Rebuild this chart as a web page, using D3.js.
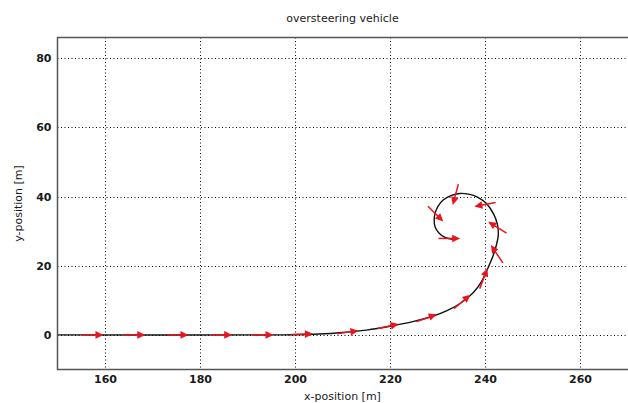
<!DOCTYPE html>
<html>
<head>
<meta charset="utf-8">
<script src="https://cdn.jsdelivr.net/npm/d3@7"></script>
<style>
html,body{margin:0;padding:0;background:#fff;}
svg{display:block;}
text{font-family:"DejaVu Sans",sans-serif;}
</style>
</head>
<body>
<svg id="chart" width="628" height="403"></svg>
<script>
// ---- data ----
const titleText = "oversteering vehicle";
const xLabelText = "x-position [m]";
const yLabelText = "y-position [m]";
const xTicks = [160, 180, 200, 220, 240, 260];
const yTicks = [0, 20, 40, 60, 80];
const xDomain = [150, 270];
const yDomain = [-10, 86];

// vehicle trajectory [m]
const pathX = [150, 195, 200, 205, 210, 215, 220, 225, 229, 232, 235, 237.5, 239.3, 240.5, 241.6, 242.4, 242.8, 242.6, 241.8, 240.3, 238.5, 236.5, 234.7, 232.8, 231.2, 230.1, 229.5, 229.3, 229.5, 230.3, 231.6, 233.5];
const pathY = [0, 0, 0.05, 0.25, 0.7, 1.4, 2.5, 3.9, 5.4, 7.0, 9.3, 12.2, 15.5, 19, 22.5, 26, 29, 32, 35, 38, 39.8, 40.7, 40.9, 40.3, 39, 37.2, 35.2, 33.2, 31.2, 29.5, 28.2, 27.6];

// heading arrows: centre position [m] and heading angle [deg]
const arrowX = [157.4, 166.2, 175.3, 184.5, 193.2, 201.5, 211.1, 219.6, 227.7, 235.2, 239.7, 242.5, 242.6, 240.0, 233.8, 229.6, 232.5];
const arrowY = [0, 0, 0, 0, 0, 0.2, 0.8, 2.5, 4.9, 9.6, 16.3, 23.4, 31.1, 37.7, 40.6, 35.0, 27.9];
const arrowHeading = [0, 0, 0, 0, 0, 2, 8, 12, 20, 40, 69, 124, 148, 191, 255, 315, 360];

// ---- layout ----
const svg = d3.select("#chart");
const L = 57.5, R = 627.5, T = 37.5, B = 369.5;
const x = d3.scaleLinear().domain(xDomain).range([L, R]);
const y = d3.scaleLinear().domain(yDomain).range([B, T]);

// grid
const grid = svg.append("g");
grid.selectAll(".gx").data(xTicks).enter().append("line")
  .attr("x1", d => Math.round(x(d)) + 0.5).attr("x2", d => Math.round(x(d)) + 0.5)
  .attr("y1", T).attr("y2", B)
  .attr("stroke", "#000").attr("stroke-width", 1).attr("stroke-dasharray", "1,2.5");
grid.selectAll(".gy").data(yTicks).enter().append("line")
  .attr("y1", d => Math.round(y(d)) + 0.5).attr("y2", d => Math.round(y(d)) + 0.5)
  .attr("x1", L).attr("x2", 628)
  .attr("stroke", "#000").attr("stroke-width", 1).attr("stroke-dasharray", "1,2.5");

// axes with d3 (labels only)
const xAxis = d3.axisBottom(x).tickValues(xTicks).tickSize(0).tickPadding(6);
const yAxis = d3.axisLeft(y).tickValues(yTicks).tickSize(0).tickPadding(6);
const gx = svg.append("g").attr("transform", `translate(0,${B})`).call(xAxis);
const gy = svg.append("g").attr("transform", `translate(${L},0)`).call(yAxis);
[gx, gy].forEach(g => {
  g.select(".domain").remove();
  g.selectAll("text").attr("font-family", "DejaVu Sans, sans-serif")
    .attr("font-size", 11).attr("font-weight", "bold").attr("fill", "#1a1a1a");
});

// trajectory
const pts = pathX.map((d, i) => [d, pathY[i]]);
svg.append("path")
  .attr("d", d3.line().x(d => x(d[0])).y(d => y(d[1])).curve(d3.curveCatmullRom.alpha(0.5))(pts))
  .attr("fill", "none").attr("stroke", "#111").attr("stroke-width", 1.4);

// arrows (fixed on-screen length)
const half = 10.8, headLen = 8, headW = 3.8;
const ag = svg.append("g");
arrowX.forEach((ax, i) => {
  const a = arrowHeading[i] * Math.PI / 180;
  const ux = Math.cos(a), uy = -Math.sin(a);
  const cx = x(ax), cy = y(arrowY[i]);
  const tx = cx - ux * half, ty = cy - uy * half;
  const hx = cx + ux * half, hy = cy + uy * half;
  const bx = hx - ux * headLen, by = hy - uy * headLen;
  ag.append("line").attr("x1", tx).attr("y1", ty).attr("x2", bx + ux).attr("y2", by + uy)
    .attr("stroke", "#e8141e").attr("stroke-width", 1.5);
  ag.append("path")
    .attr("d", `M${hx},${hy}L${bx - uy * headW},${by + ux * headW}L${bx + uy * headW},${by - ux * headW}Z`)
    .attr("fill", "#e8141e");
});

// axis box (top, left, bottom)
svg.append("path")
  .attr("d", `M628,${T}H${L}V${B}H628`)
  .attr("fill", "none").attr("stroke", "#555").attr("stroke-width", 1.5);

// texts
svg.append("text").attr("x", (L + R) / 2).attr("y", 22).attr("text-anchor", "middle")
  .attr("font-size", 11).attr("fill", "#1a1a1a").text(titleText);
svg.append("text").attr("x", (L + R) / 2).attr("y", 400).attr("text-anchor", "middle")
  .attr("font-size", 11).attr("fill", "#1a1a1a").text(xLabelText);
svg.append("text").attr("transform", `translate(22,${(T + B) / 2}) rotate(-90)`)
  .attr("text-anchor", "middle").attr("font-size", 11).attr("fill", "#1a1a1a").text(yLabelText);
</script>
</body>
</html>
